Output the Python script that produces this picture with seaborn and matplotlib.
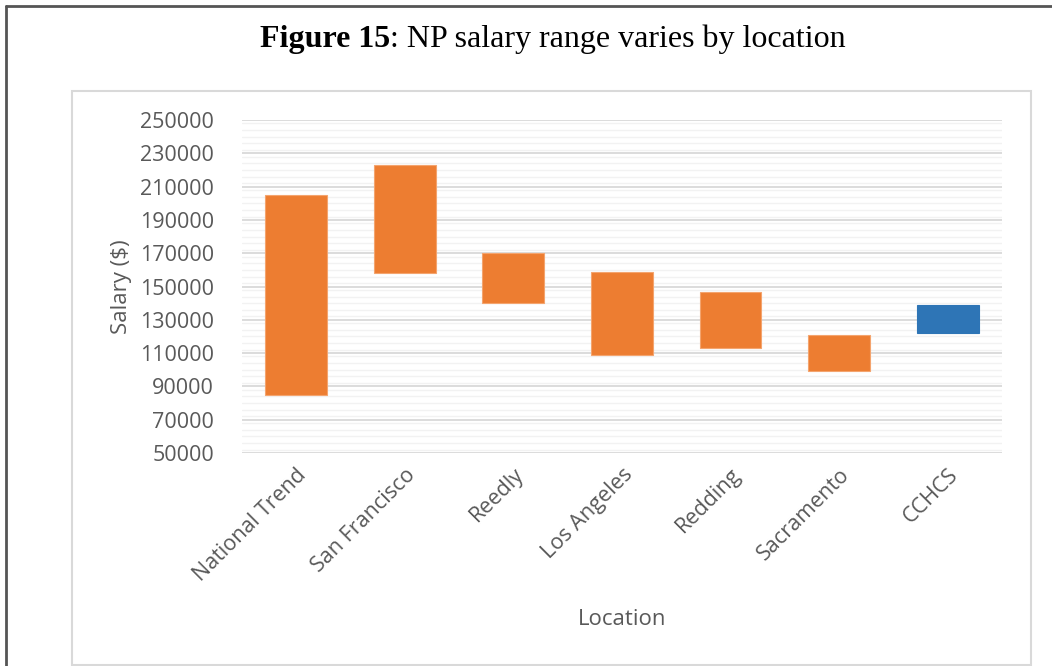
import matplotlib
matplotlib.use("Agg")
import matplotlib.pyplot as plt
from matplotlib.patches import Rectangle
from matplotlib.lines import Line2D
from matplotlib.ticker import MultipleLocator
import pandas as pd
import seaborn as sns

locations = ["National Trend", "San Francisco", "Reedly", "Los Angeles",
             "Redding", "Sacramento", "CCHCS"]
salary_low = [85000, 158000, 140000, 109000, 113000, 99000, 122000]
salary_high = [205000, 223000, 170000, 159000, 147000, 121000, 139000]
group = ["market", "market", "market", "market", "market", "market", "cchcs"]

df = pd.DataFrame({"Location": locations, "low": salary_low, "high": salary_high, "group": group})
df["range"] = df["high"] - df["low"]

sns.set_style("white")
plt.rcParams["font.family"] = ["Open Sans", "DejaVu Sans"]

fig = plt.figure(figsize=(10.52, 6.66), dpi=100)
ax = fig.add_axes([0.2298, 0.3198, 0.7227, 0.5])

colors = {"market": "#ED7D31", "cchcs": "#2E75B6"}
edges = {"market": "#F4A46E", "cchcs": "#2E75B6"}
for g in ["market", "cchcs"]:
    sub = df[df["group"] == g]
    sns.barplot(data=sub, x="Location", y="range", order=locations, color=colors[g],
                bottom=sub["low"].values, width=0.57, errorbar=None, saturation=1,
                edgecolor=edges[g], linewidth=0.8, ax=ax)

ax.set_ylim(50000, 250000)
ax.yaxis.set_major_locator(MultipleLocator(20000))
ax.yaxis.set_minor_locator(MultipleLocator(4000))
ax.grid(axis="y", which="major", color="#d9d9d9", linewidth=1.3)
ax.grid(axis="y", which="minor", color="#f2f2f2", linewidth=1.0)
ax.set_axisbelow(True)
for s in ax.spines.values():
    s.set_visible(False)
ax.tick_params(axis="both", which="both", length=0, colors="#595959", labelsize=15.5)
ax.tick_params(axis="y", pad=20)
ax.set_yticks(range(50000, 250001, 20000))
ax.set_yticklabels([str(v) for v in range(50000, 250001, 20000)])
plt.setp(ax.get_xticklabels(), rotation=45, ha="right", rotation_mode="anchor")
ax.tick_params(axis="x", pad=8)

ax.set_ylabel("Salary ($)", fontsize=16, color="#595959", labelpad=6)
ax.set_xlabel("Location", fontsize=16, color="#595959", labelpad=17)

# inner chart box and outer frame
fig.add_artist(Rectangle((72 / 1052, 1 / 666), (1031 - 72) / 1052, (666 - 91 - 1) / 666,
                         transform=fig.transFigure, fill=False, edgecolor="#d9d9d9", linewidth=1.5))
fig.add_artist(Line2D([5.5 / 1052, 5.5 / 1052], [0, 1 - 6 / 666], transform=fig.transFigure,
                      color="#555555", linewidth=2))
fig.add_artist(Line2D([5.5 / 1052, 1], [1 - 6 / 666, 1 - 6 / 666], transform=fig.transFigure,
                      color="#555555", linewidth=2))

# title: bold part + regular part, centred together
title_y = 1 - 39 / 666
t1 = fig.text(0, title_y, "Figure 15", family="Liberation Serif", fontweight="bold",
              fontsize=23, va="center", ha="left", color="black")
t2 = fig.text(0, title_y, ": NP salary range varies by location", family="Liberation Serif",
              fontsize=23, va="center", ha="left", color="black")
r = fig.canvas.get_renderer()
w1 = t1.get_window_extent(r).width
w2 = t2.get_window_extent(r).width
x0 = 553 - (w1 + w2) / 2
t1.set_x(x0 / 1052)
t2.set_x((x0 + w1) / 1052)

fig.savefig("out.png", dpi=100)
